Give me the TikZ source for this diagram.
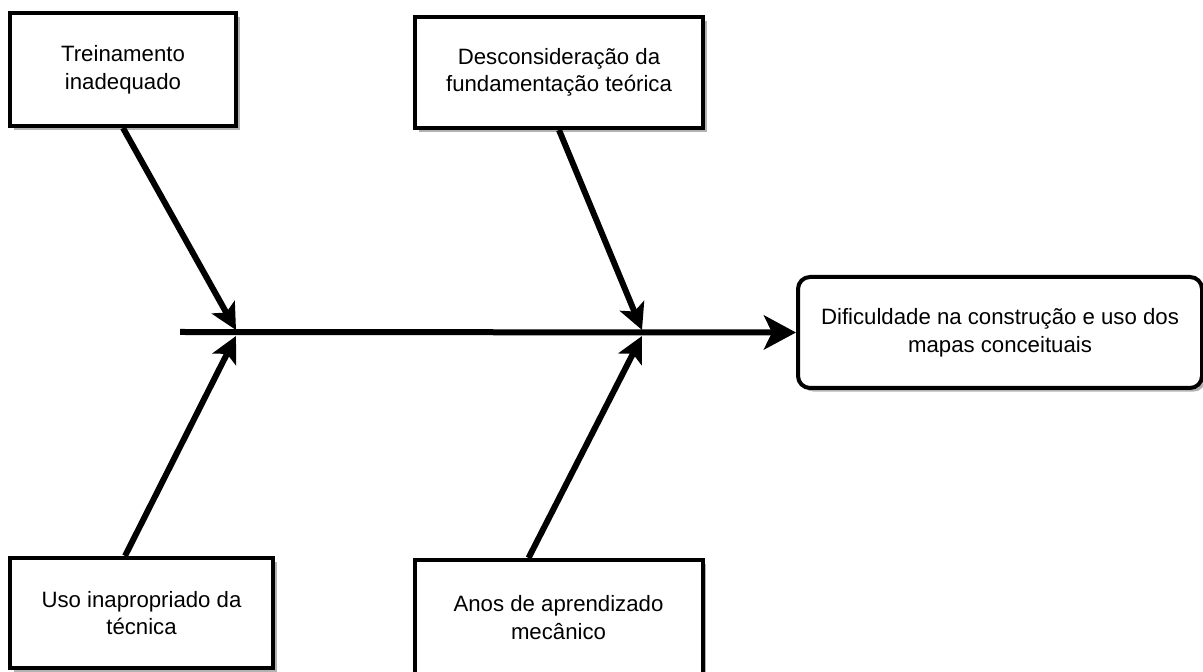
\documentclass[tikz,border=0pt]{standalone}
\usepackage{fontspec}
\setmainfont{Liberation Sans}
\usepackage{tikz}
\usetikzlibrary{arrows.meta}
\usetikzlibrary{shadows}
\usetikzlibrary{calc}
\tikzstyle{causa} = [draw, line width=2pt, fill=white, align=center, font=\fontsize{11.1}{13.8}\selectfont, drop shadow={shadow xshift=1.8pt, shadow yshift=-1.8pt, fill=black!30, opacity=1}]
\tikzstyle{efeito} = [causa, rounded corners=6pt]
\tikzstyle{espinha} = [line width=3pt, -{Stealth[length=16pt,width=17pt,inset=4pt]}]
\tikzstyle{ramo} = [line width=3pt, -{Stealth[length=13pt,width=13pt,inset=3pt]}]

\begin{document}
\begin{tikzpicture}[x=0.5pt,y=-0.5pt]
			\useasboundingbox (0,0) rectangle (1203,672);
			\node[causa, minimum width=113pt, minimum height=56.5pt] (treino) at (123,69.5) {Treinamento\\inadequado};
			\node[causa, minimum width=144pt, minimum height=55.5pt] (teoria) at (559,72.5) {Desconsidera\c{c}\~ao da\\fundamenta\c{c}\~ao te\'orica};
			\node[causa, minimum width=131.5pt, minimum height=55pt] (uso) at (141.5,613) {Uso inapropriado da\\t\'ecnica};
			\node[causa, minimum width=144pt, minimum height=57.5pt] (anos) at (558.5,617.5) {Anos de aprendizado\\mec\^anico};
			\node[efeito, minimum width=202pt, minimum height=55.5pt] (dificuldade) at (1000,332.5) {Dificuldade na constru\c{c}\~ao e uso dos\\mapas conceituais};
			\coordinate (cauda) at (180,332);
			\coordinate (j1t) at (236,330);
			\coordinate (j1b) at (236,336);
			\coordinate (j2t) at (642,330);
			\coordinate (j2b) at (642,336);
			\draw[espinha] (cauda) -- (dificuldade.west);
			\draw[ramo] (treino.south) -- (j1t);
			\draw[ramo] ($(uso.north)+(-16.5,0)$) -- (j1b);
			\draw[ramo] (teoria.south) -- (j2t);
			\draw[ramo] ($(anos.north)+(-30,0)$) -- (j2b);
		\end{tikzpicture}
\end{document}
